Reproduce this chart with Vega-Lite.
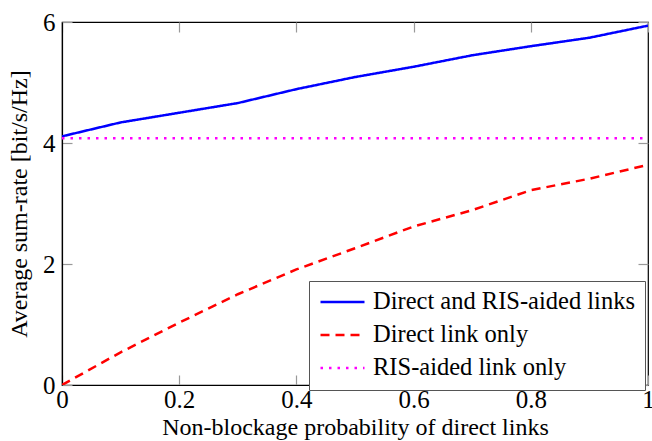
{
  "$schema": "https://vega.github.io/schema/vega-lite/v6.json",
  "width": 586,
  "height": 363,
  "autosize": {"type": "none"},
  "padding": {"left": 62, "top": 22, "right": 4, "bottom": 56},
  "background": "white",
  "config": {
    "font": "Liberation Serif",
    "view": {"stroke": "black", "strokeWidth": 1.2},
    "axis": {"grid": false}
  },
  "data": {
    "values": [
      {"p": 0.0, "rate": 4.11, "series": "Direct and RIS-aided links"},
      {"p": 0.1, "rate": 4.34, "series": "Direct and RIS-aided links"},
      {"p": 0.2, "rate": 4.50, "series": "Direct and RIS-aided links"},
      {"p": 0.3, "rate": 4.66, "series": "Direct and RIS-aided links"},
      {"p": 0.4, "rate": 4.89, "series": "Direct and RIS-aided links"},
      {"p": 0.5, "rate": 5.09, "series": "Direct and RIS-aided links"},
      {"p": 0.6, "rate": 5.26, "series": "Direct and RIS-aided links"},
      {"p": 0.7, "rate": 5.45, "series": "Direct and RIS-aided links"},
      {"p": 0.8, "rate": 5.60, "series": "Direct and RIS-aided links"},
      {"p": 0.9, "rate": 5.74, "series": "Direct and RIS-aided links"},
      {"p": 1.0, "rate": 5.94, "series": "Direct and RIS-aided links"},
      {"p": 0.0, "rate": 0.0, "series": "Direct link only"},
      {"p": 0.1, "rate": 0.54, "series": "Direct link only"},
      {"p": 0.2, "rate": 1.03, "series": "Direct link only"},
      {"p": 0.3, "rate": 1.50, "series": "Direct link only"},
      {"p": 0.4, "rate": 1.91, "series": "Direct link only"},
      {"p": 0.5, "rate": 2.26, "series": "Direct link only"},
      {"p": 0.6, "rate": 2.62, "series": "Direct link only"},
      {"p": 0.7, "rate": 2.89, "series": "Direct link only"},
      {"p": 0.8, "rate": 3.22, "series": "Direct link only"},
      {"p": 0.9, "rate": 3.41, "series": "Direct link only"},
      {"p": 1.0, "rate": 3.64, "series": "Direct link only"},
      {"p": 0.0, "rate": 4.08, "series": "RIS-aided link only"},
      {"p": 1.0, "rate": 4.08, "series": "RIS-aided link only"}
    ]
  },
  "layer": [
    {
      "mark": {"type": "line", "strokeWidth": 2.5, "clip": true},
      "encoding": {
        "x": {
          "field": "p", "type": "quantitative",
          "scale": {"domain": [0, 1], "nice": false, "zero": false},
          "axis": {
            "title": "Non-blockage probability of direct links",
            "values": [0, 0.2, 0.4, 0.6, 0.8, 1],
            "labelExpr": "'' + datum.value",
            "labelFont": "Liberation Serif", "labelFontSize": 25, "labelColor": "black",
            "labelPadding": 12, "labelFlush": false, "labelOverlap": false,
            "titleFont": "Liberation Serif", "titleFontSize": 24, "titleFontWeight": "normal", "titleColor": "black",
            "titlePadding": 3,
            "tickSize": -10, "tickColor": "#999999", "tickWidth": 1.2,
            "domainColor": "black", "domainWidth": 1.2
          }
        },
        "y": {
          "field": "rate", "type": "quantitative",
          "scale": {"domain": [0, 6], "nice": false},
          "axis": {
            "title": "Average sum-rate [bit/s/Hz]",
            "values": [0, 2, 4, 6],
            "labelFont": "Liberation Serif", "labelFontSize": 25, "labelColor": "black",
            "labelPadding": 17, "labelFlush": false,
            "titleFont": "Liberation Serif", "titleFontSize": 24, "titleFontWeight": "normal", "titleColor": "black",
            "titlePadding": 11,
            "tickSize": -10, "tickColor": "#999999", "tickWidth": 1.2,
            "domainColor": "black", "domainWidth": 1.2
          }
        },
        "color": {
          "field": "series", "type": "nominal",
          "scale": {
            "domain": ["Direct and RIS-aided links", "Direct link only", "RIS-aided link only"],
            "range": ["#0000ff", "#ff0000", "#ff00ff"]
          },
          "legend": {
            "title": null,
            "orient": "none",
            "legendX": 247,
            "legendY": 259,
            "fillColor": "white",
            "strokeColor": "#555555",
            "padding": 10,
            "symbolType": "stroke",
            "symbolSize": 1936,
            "symbolStrokeWidth": 2.5,
            "clipHeight": 22,
            "labelFont": "Liberation Serif",
            "labelFontSize": 24.5,
            "labelColor": "black",
            "labelOffset": 7,
            "labelLimit": 400,
            "rowPadding": 8
          }
        },
        "strokeDash": {
          "field": "series", "type": "nominal",
          "scale": {
            "domain": ["Direct and RIS-aided links", "Direct link only", "RIS-aided link only"],
            "range": [[1, 0], [9, 6], [2.5, 6]]
          }
        }
      }
    },
    {
      "mark": {"type": "point", "opacity": 0},
      "encoding": {
        "x": {
          "field": "p", "type": "quantitative",
          "axis": {
            "orient": "top", "title": null, "labels": false, "domain": false,
            "values": [0, 0.2, 0.4, 0.6, 0.8, 1],
            "tickSize": -10, "tickColor": "#999999", "tickWidth": 1.2
          }
        },
        "y": {
          "field": "rate", "type": "quantitative",
          "axis": {
            "orient": "right", "title": null, "labels": false, "domain": false,
            "values": [0, 2, 4, 6],
            "tickSize": -10, "tickColor": "#999999", "tickWidth": 1.2
          }
        }
      }
    }
  ],
  "resolve": {"axis": {"x": "independent", "y": "independent"}}
}
